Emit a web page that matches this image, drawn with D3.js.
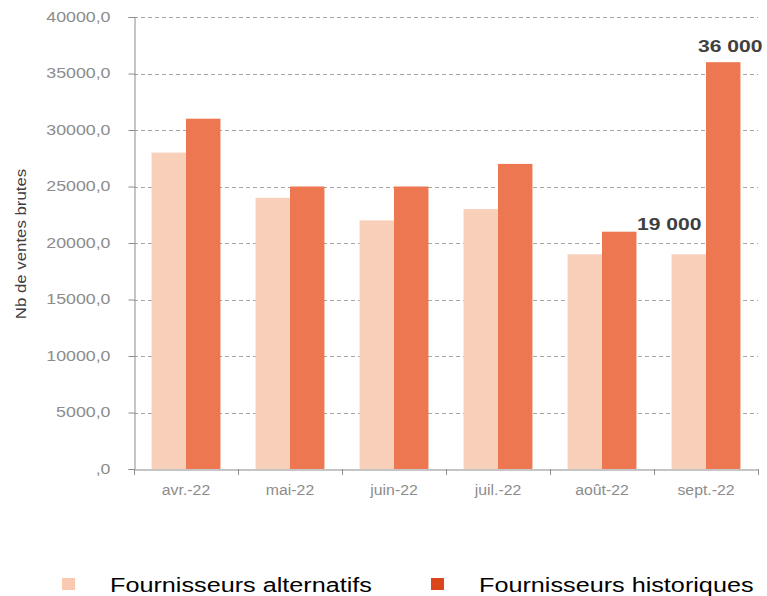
<!DOCTYPE html>
<html>
<head>
<meta charset="utf-8">
<script src="https://cdn.jsdelivr.net/npm/d3@7"></script>
<style>
  body { margin: 0; background: #fff; }
  svg { display: block; }
</style>
</head>
<body>
<div id="chart"></div>
<script>
// chart data
var months = ['avr.-22', 'mai-22', 'juin-22', 'juil.-22', 'août-22', 'sept.-22'];
var alternatifs = [28000, 24000, 22000, 23000, 19000, 19000];
var historiques = [31000, 25000, 25000, 27000, 21000, 36000];
var yTicks = [0, 5000, 10000, 15000, 20000, 25000, 30000, 35000, 40000];
var seriesNames = ['Fournisseurs alternatifs', 'Fournisseurs historiques'];
// data labels shown on the chart: [month index, text]
var callouts = [[4, '19 000'], [5, '36 000']];

var width = 767, height = 596;
var margin = { left: 134, right: 9, top: 17, bottom: 127 };
var font = '"Liberation Sans", Arial, sans-serif';

// label nudges (the labels were hand placed in the original)
var calloutDx = { 4: 35, 5: -8 };
var calloutDy = { 4: -2, 5: -10 };

// the source picture was stretched sideways, so widen the glyphs a bit
function stretch(sel, k) {
  sel.each(function () {
    var w = this.getComputedTextLength();
    d3.select(this)
      .attr('textLength', w * k)
      .attr('lengthAdjust', 'spacingAndGlyphs');
  });
}

var svg = d3.select('#chart').append('svg')
  .attr('width', width)
  .attr('height', height);

var x = d3.scaleBand()
  .domain(months)
  .range([margin.left, width - margin.right]);

var inner = d3.scaleBand()
  .domain([0, 1])
  .range([0, x.bandwidth()])
  .paddingOuter(0.51);

var y = d3.scaleLinear()
  .domain([0, 40000])
  .range([height - margin.bottom, margin.top]);

// y axis title
svg.append('text')
  .attr('transform', 'translate(26,' + (margin.top + (y(0) - margin.top) / 2 + 1) + ') rotate(-90)')
  .attr('text-anchor', 'middle')
  .attr('font-family', font)
  .attr('font-size', 14)
  .attr('fill', '#404040')
  .text('Nb de ventes brutes')
  .call(stretch, 1.2);

// gridlines
svg.append('g')
  .selectAll('line')
  .data(yTicks.filter(function (d) { return d > 0; }))
  .enter()
  .append('line')
  .attr('x1', margin.left)
  .attr('x2', width - margin.right)
  .attr('y1', function (d) { return Math.round(y(d)) + 0.5; })
  .attr('y2', function (d) { return Math.round(y(d)) + 0.5; })
  .attr('stroke', '#a6a6a6')
  .attr('stroke-dasharray', '4,3');

// y axis
var fmt = function (d) {
  return d === 0 ? ',0' : d + ',0';
};
var yAxis = svg.append('g')
  .attr('transform', 'translate(' + (margin.left + 0.5) + ',0)')
  .call(d3.axisLeft(y).tickValues(yTicks).tickFormat(fmt).tickSize(6).tickPadding(18));
yAxis.select('.domain').attr('stroke', '#8c8c8c');
yAxis.selectAll('.tick line').attr('stroke', '#8c8c8c');
yAxis.selectAll('text')
  .attr('font-family', font)
  .attr('font-size', 14)
  .attr('fill', '#8c8c8c')
  .call(stretch, 1.27);

// bars
var groups = svg.append('g')
  .selectAll('g')
  .data(months)
  .enter()
  .append('g')
  .attr('transform', function (d) { return 'translate(' + x(d) + ',0)'; });

groups.append('rect')
  .attr('x', inner(0))
  .attr('width', inner.bandwidth())
  .attr('y', function (d, i) { return y(alternatifs[i]); })
  .attr('height', function (d, i) { return y(0) - y(alternatifs[i]); })
  .attr('fill', '#f8cfb9');

groups.append('rect')
  .attr('x', inner(1))
  .attr('width', inner.bandwidth())
  .attr('y', function (d, i) { return y(historiques[i]); })
  .attr('height', function (d, i) { return y(0) - y(historiques[i]); })
  .attr('fill', '#ec7751');

// x axis
var xAxis = svg.append('g')
  .attr('transform', 'translate(0,' + (y(0) + 0.5) + ')')
  .call(d3.axisBottom(x).tickSize(0).tickPadding(16));
xAxis.select('.domain').attr('stroke', '#8c8c8c');
xAxis.selectAll('text')
  .attr('font-family', font)
  .attr('font-size', 14)
  .attr('fill', '#8c8c8c')
  .call(stretch, 1.13);
// category separators
var edges = months.map(function (d) { return x(d); }).concat([x.range()[1]]);
svg.append('g')
  .selectAll('line')
  .data(edges)
  .enter()
  .append('line')
  .attr('x1', function (d) { return Math.round(d) + 0.5; })
  .attr('x2', function (d) { return Math.round(d) + 0.5; })
  .attr('y1', y(0))
  .attr('y2', y(0) + 6)
  .attr('stroke', '#8c8c8c');

// data labels
svg.append('g')
  .selectAll('text')
  .data(callouts)
  .enter()
  .append('text')
  .attr('x', function (d) { return x(months[d[0]]) + inner(1) + calloutDx[d[0]]; })
  .attr('y', function (d) { return y(historiques[d[0]]) + calloutDy[d[0]]; })
  .attr('font-family', font)
  .attr('font-weight', 'bold')
  .attr('font-size', 17)
  .attr('fill', '#404040')
  .text(function (d) { return d[1]; })
  .call(stretch, 1.24);

// legend
var legendColors = ['#f8cab2', '#d9461c'];
var legendX = [62, 431];
var legend = svg.append('g')
  .selectAll('g')
  .data(seriesNames)
  .enter()
  .append('g')
  .attr('transform', function (d, i) { return 'translate(' + legendX[i] + ',578)'; });
legend.append('rect')
  .attr('width', 13)
  .attr('height', 12)
  .attr('fill', function (d, i) { return legendColors[i]; });
legend.append('text')
  .attr('x', 48)
  .attr('y', 14)
  .attr('font-family', font)
  .attr('font-size', 20)
  .attr('fill', '#000')
  .text(function (d) { return d; })
  .call(stretch, 1.26);
</script>
</body>
</html>
